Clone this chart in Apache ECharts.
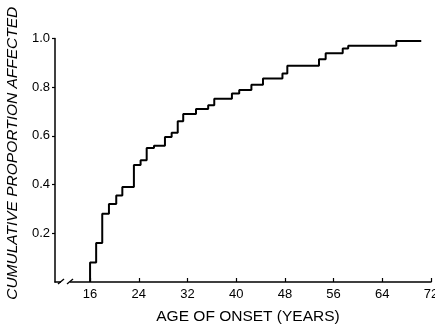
<!DOCTYPE html>
<html>
<head>
<meta charset="utf-8">
<script src="https://cdn.jsdelivr.net/npm/echarts@6/dist/echarts.min.js"></script>
<style>html,body{margin:0;padding:0;background:#fff}#c{width:435px;height:324px}</style>
</head>
<body>
<div id="c"></div>
<script>
// Step points: age at which cumulative proportion jumps, and proportion after jump
var ages = [16, 16, 17, 18, 19.1, 20.3, 21.3, 23.2, 24.3, 25.3, 26.5, 28.3, 29.4, 30.4, 31.3, 33.4, 35.4, 36.4, 39.3, 40.5, 42.5, 44.4, 47.6, 48.4, 53.6, 54.7, 57.5, 58.4, 66.3, 70.4];
var proportions = [0, 0.08, 0.16, 0.28, 0.32, 0.355, 0.39, 0.48, 0.50, 0.55, 0.56, 0.595, 0.613, 0.66, 0.69, 0.71, 0.726, 0.753, 0.774, 0.788, 0.81, 0.836, 0.856, 0.888, 0.915, 0.939, 0.959, 0.97, 0.99, 0.99];
var xTicks = [16, 24, 32, 40, 48, 56, 64, 72];
var yTicks = [0.2, 0.4, 0.6, 0.8, 1.0];
var xTitle = 'AGE OF ONSET (YEARS)';
var yTitle = 'CUMULATIVE PROPORTION AFFECTED';

var data = ages.map(function (a, i) { return [a, proportions[i]]; });
var font = 'Liberation Sans, Arial, sans-serif';
var chart = echarts.init(document.getElementById('c'), null, {renderer: 'canvas'});
chart.setOption({
  animation: false,
  grid: {left: 55, right: 4, top: 38.5, bottom: 42, containLabel: false, outerBoundsMode: 'none'},
  xAxis: {
    type: 'value', min: 10.24, max: 72,
    splitLine: {show: false},
    axisLine: {lineStyle: {color: '#000', width: 1.5}},
    axisTick: {inside: true, length: 4, customValues: xTicks, lineStyle: {color: '#000', width: 1.2}},
    axisLabel: {customValues: xTicks, color: '#000', fontSize: 13, fontFamily: font, margin: 6,
      alignMaxLabel: 'center', hideOverlap: false},
    name: xTitle, nameLocation: 'middle', nameGap: 27,
    nameTextStyle: {color: '#000', fontSize: 15.5, fontFamily: font, padding: [0, 0, 0, 10]}
  },
  yAxis: {
    type: 'value', min: 0, max: 1.0,
    splitLine: {show: false},
    axisLine: {lineStyle: {color: '#000', width: 1.5}},
    axisTick: {length: 3, customValues: yTicks, lineStyle: {color: '#000', width: 1.2}},
    axisLabel: {customValues: yTicks, color: '#000', fontSize: 13, fontFamily: font, margin: 5,
      formatter: function (v) { return v.toFixed(1); }},
    name: yTitle, nameLocation: 'middle', nameRotate: 90, nameGap: 34,
    nameTextStyle: {color: '#000', fontSize: 15.5, fontStyle: 'italic', fontFamily: font, padding: [0, 0, 0, 14]}
  },
  series: [{
    type: 'line', step: 'end', data: data, showSymbol: false,
    lineStyle: {color: '#000', width: 2}
  }]
});
// axis break mark "//" on the x axis
var p0 = chart.convertToPixel({gridIndex: 0}, [10.24, 0]);
var bx = p0[0], by = p0[1];
chart.setOption({
  graphic: [
    {type: 'rect', shape: {x: bx + 6, y: by - 3, width: 9, height: 6}, style: {fill: '#fff'}, z: 100},
    {type: 'line', shape: {x1: bx + 3, y1: by + 2, x2: bx + 9, y2: by - 3}, style: {stroke: '#000', lineWidth: 1.3}, z: 101},
    {type: 'line', shape: {x1: bx + 12, y1: by + 2, x2: bx + 18, y2: by - 3}, style: {stroke: '#000', lineWidth: 1.3}, z: 101}
  ]
});
</script>
</body>
</html>
